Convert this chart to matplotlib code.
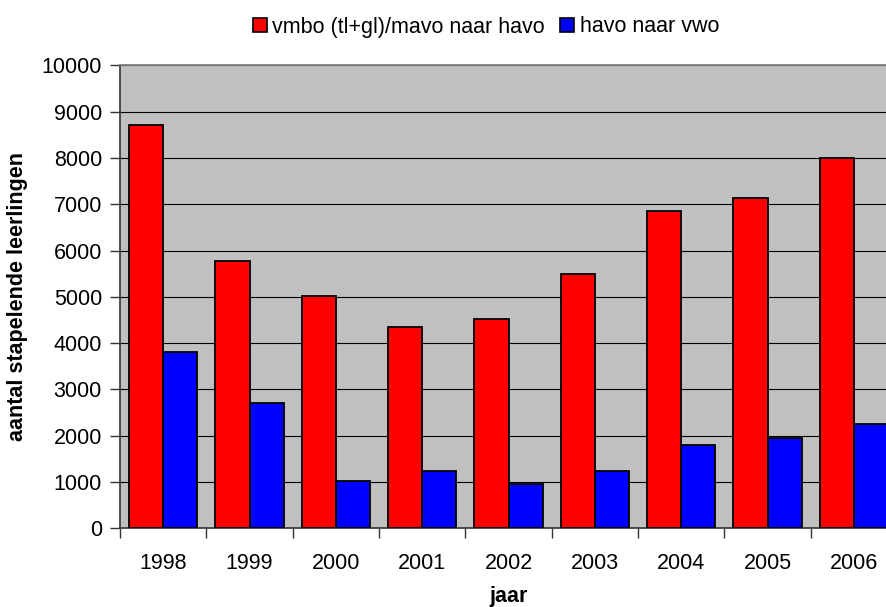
import matplotlib
matplotlib.use("Agg")
import matplotlib.pyplot as plt
import numpy as np
from matplotlib.patches import Patch

plt.rcParams["font.family"] = ["Liberation Sans", "DejaVu Sans"]

years = ["1998", "1999", "2000", "2001", "2002", "2003", "2004", "2005", "2006"]
vmbo_havo = [8700, 5780, 5025, 4350, 4520, 5490, 6850, 7135, 8005]
havo_vwo = [3810, 2705, 1020, 1230, 965, 1245, 1800, 1950, 2245]

C_RED = "#FF0000"
C_BLUE = "#0000FF"
C_BG = "#C0C0C0"

fig = plt.figure(figsize=(8.86, 6.07), dpi=100)
# plot area runs past the right edge of the image, as in the original
ax = fig.add_axes([120 / 886, 78.7 / 607, 777 / 886, 463 / 607])
ax.set_facecolor(C_BG)

x = np.arange(len(years))
w = 0.397
ax.bar(x - w, vmbo_havo, width=w, align="edge", color=C_RED,
       edgecolor="black", lw=1.3, zorder=3)
ax.bar(x, havo_vwo, width=w, align="edge", color=C_BLUE,
       edgecolor="black", lw=1.3, zorder=3)

ax.set_xlim(-0.5, len(years) - 0.5)
ax.set_ylim(0, 10000)
ax.set_yticks(np.arange(0, 10001, 1000))
ax.yaxis.grid(True, color="black", lw=0.8, zorder=1)
ax.set_axisbelow(True)

ax.set_xticks(x)
ax.set_xticklabels(years)
ax.set_xticks(np.arange(-0.5, len(years), 1.0), minor=True)
ax.tick_params(axis="x", which="major", length=0, pad=18, labelsize=15.5)
ax.tick_params(axis="x", which="minor", length=7, width=1, color="#333333",
               direction="out")
ax.tick_params(axis="y", length=7, width=1, color="#333333", pad=6,
               labelsize=15.5)

for side in ("left", "bottom"):
    ax.spines[side].set_color("#404040")
    ax.spines[side].set_linewidth(1.3)
ax.spines["top"].set_color("#808080")
ax.spines["top"].set_linewidth(1.3)
ax.spines["right"].set_visible(False)

ax.set_xlabel("jaar", fontsize=15.5, fontweight="bold", va="top")
ax.xaxis.set_label_coords(0.5, -0.125)
ax.set_ylabel("aantal stapelende leerlingen", fontsize=15.5, fontweight="bold")
ax.yaxis.set_label_coords(-0.119, 0.5)

handles = [
    Patch(facecolor=C_RED, edgecolor="black", lw=1.2,
          label="vmbo (tl+gl)/mavo naar havo"),
    Patch(facecolor=C_BLUE, edgecolor="black", lw=1.2, label="havo naar vwo"),
]
fig.legend(handles=handles, loc="center", bbox_to_anchor=(486 / 886, 1 - 27 / 607),
           ncol=2, frameon=False, fontsize=15.5, handlelength=0.65,
           handleheight=0.65, handletextpad=0.25, columnspacing=0.7,
           borderaxespad=0)

fig.savefig("out.png", dpi=100)
